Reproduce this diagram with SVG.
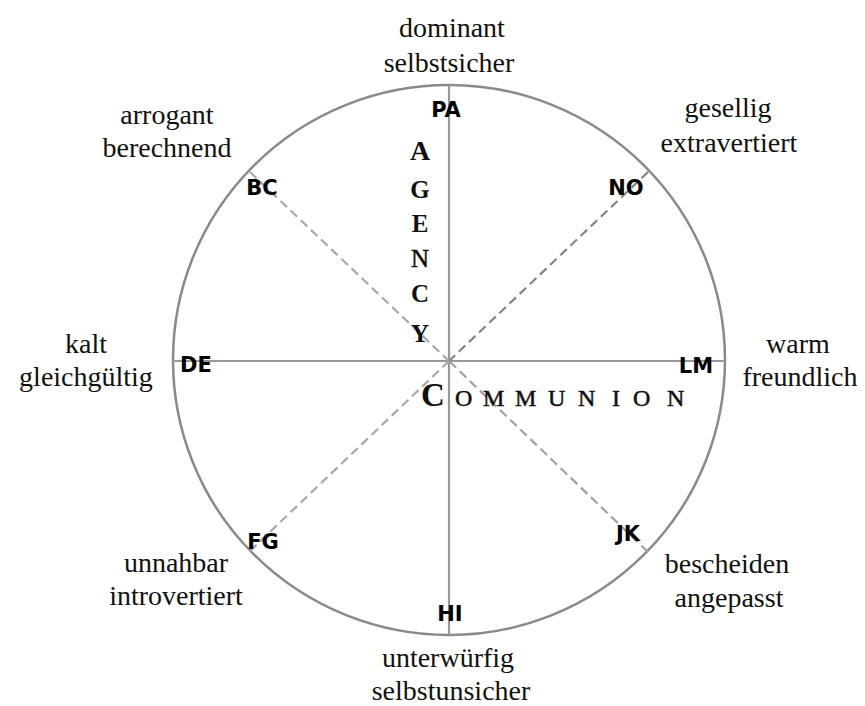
<svg xmlns="http://www.w3.org/2000/svg" width="865" height="706" viewBox="0 0 865 706">
<style>
.lbl{font-family:"Liberation Serif","Times New Roman",serif;font-size:28px;fill:#111;text-anchor:middle}
.code{font-family:"DejaVu Sans","Liberation Sans",sans-serif;font-weight:bold;font-size:21px;fill:#000;text-anchor:middle}
.ax{font-family:"Liberation Serif","Times New Roman",serif;fill:#111}
.axis{stroke:#999;stroke-width:2.2;fill:none}
.dash{stroke-width:2.2;stroke-dasharray:9 5;fill:none}
</style>
<rect width="865" height="706" fill="#fff"/>
<g id="connectors">
<ellipse cx="449" cy="360" rx="276" ry="275" fill="none" stroke="#8a8a8a" stroke-width="2.5"/>
<line class="axis" x1="449" y1="85" x2="449" y2="635"/>
<line class="axis" x1="173" y1="361" x2="725" y2="361"/>
<line class="dash" stroke="#a8a8a8" x1="250" y1="172" x2="449" y2="361"/>
<line class="dash" stroke="#858585" x1="648" y1="172" x2="449" y2="361"/>
<line class="dash" stroke="#a8a8a8" x1="250" y1="551" x2="449" y2="361"/>
<line class="dash" stroke="#a0a0a0" x1="648" y1="552" x2="449" y2="361"/>
</g>
<g id="PA"><text class="code" x="446" y="117">PA</text><text class="lbl" x="452" y="37">dominant</text><text class="lbl" x="449" y="72">selbstsicher</text></g>
<g id="NO"><text class="code" x="626" y="195">NO</text><text class="lbl" x="728" y="117">gesellig</text><text class="lbl" x="729" y="152">extravertiert</text></g>
<g id="BC"><text class="code" x="262" y="195">BC</text><text class="lbl" x="167" y="124">arrogant</text><text class="lbl" x="167" y="157">berechnend</text></g>
<g id="DE"><text class="code" x="196" y="372">DE</text><text class="lbl" x="86" y="353">kalt</text><text class="lbl" x="86" y="386">gleichgültig</text></g>
<g id="LM"><text class="code" x="696" y="373">LM</text><text class="lbl" x="798" y="353">warm</text><text class="lbl" x="800" y="386">freundlich</text></g>
<g id="FG"><text class="code" x="263" y="549">FG</text><text class="lbl" x="176" y="572">unnahbar</text><text class="lbl" x="176" y="605">introvertiert</text></g>
<g id="JK"><text class="code" x="628" y="541">JK</text><text class="lbl" x="727" y="573">bescheiden</text><text class="lbl" x="729" y="607">angepasst</text></g>
<g id="HI"><text class="code" x="450" y="621">HI</text><text class="lbl" x="448" y="667">unterwürfig</text><text class="lbl" x="451" y="700">selbstunsicher</text></g>
<g id="agency" class="ax" text-anchor="middle" font-weight="bold">
<text x="420" y="160" font-size="28">A</text>
<text x="420" y="198" font-size="25">G</text>
<text x="420" y="232" font-size="25">E</text>
<text x="420" y="267" font-size="25" font-weight="normal" stroke="#111" stroke-width="0.5">N</text>
<text x="420" y="302" font-size="25">C</text>
<text x="420" y="342" font-size="25">Y</text>
</g>
<g id="communion" class="ax">
<text x="421" y="406" font-size="33" font-weight="bold">C</text>
<text y="406" font-size="24" stroke="#111" stroke-width="0.5"><tspan x="455">O</tspan><tspan x="483">M</tspan><tspan x="515">M</tspan><tspan x="548">U</tspan><tspan x="578">N</tspan><tspan x="612">I</tspan><tspan x="633">O</tspan><tspan x="667">N</tspan></text>
</g>
</svg>
